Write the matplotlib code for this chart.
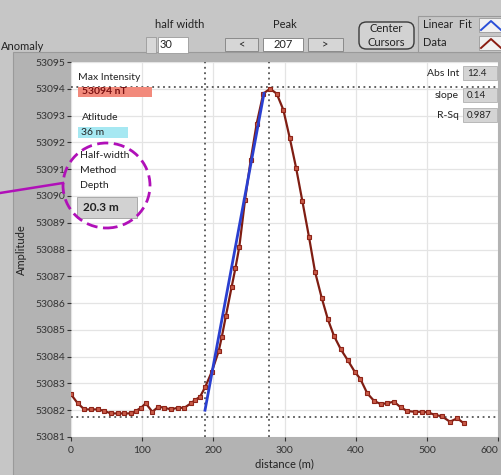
import matplotlib
matplotlib.use('Agg')
import matplotlib.pyplot as plt
from matplotlib.patches import Rectangle, FancyBboxPatch, Ellipse
from matplotlib.lines import Line2D

plt.rcParams['font.family'] = ['Lato', 'DejaVu Sans']

# Data
distance = [0, 9.4, 18.7, 28.1, 38.4, 46.8, 56.2, 65.6, 75, 84.3, 90.9, 98.4,
            105, 114.3, 122.8, 131.2, 140.5, 150, 159.3, 168.6, 174.2, 181.3,
            188.3, 197.6, 207.5, 212, 217.5, 225.7, 231, 236.5, 244.5, 252.5,
            260.9, 270.2, 279.6, 289, 298.3, 307.5, 316.2, 325, 334.4, 342.9,
            352.2, 361, 369.6, 379.2, 388.8, 398.6, 406.5, 416.3, 425.8, 435,
            444.3, 453.8, 463.1, 472.5, 483.3, 492.7, 502, 511.5, 520.8, 532.5,
            542.8, 552]
amplitude = [53082.59, 53082.26, 53082.03, 53082.03, 53082.03, 53081.97,
             53081.88, 53081.88, 53081.88, 53081.88, 53081.97, 53082.09,
             53082.26, 53081.94, 53082.13, 53082.09, 53082.03, 53082.09,
             53082.09, 53082.26, 53082.38, 53082.5, 53082.85, 53083.42,
             53084.2, 53084.75, 53085.5, 53086.6, 53087.3, 53088.1, 53089.84,
             53091.34, 53092.7, 53093.82, 53094.0, 53093.82, 53093.22,
             53092.15, 53091.06, 53089.82, 53088.47, 53087.17, 53086.2,
             53085.39, 53084.77, 53084.27, 53083.87, 53083.44, 53083.17,
             53082.63, 53082.35, 53082.23, 53082.26, 53082.32, 53082.11,
             53081.97, 53081.94, 53081.94, 53081.92, 53081.82, 53081.78,
             53081.57, 53081.7, 53081.51]
fit_x = [188.3, 271.2]
fit_y = [53082.0, 53093.83]
cursor_x = [188.5, 278.5]
cursor_y = [53081.73, 53094.05]
x_ticks = [0, 100, 200, 300, 400, 500, 600]
y_ticks = list(range(53081, 53096))

W, H = 502, 475


def fx(x):
    return x / W


def fy(y):
    return 1 - y / H


fig = plt.figure(figsize=(W / 100, H / 100), dpi=100)
fig.patch.set_facecolor('#c6c6c6')

# graph frame
fig.add_artist(Rectangle((fx(13), 0), 1 - fx(13), fy(52), transform=fig.transFigure,
                         facecolor='#b3b3b3', edgecolor='#9a9a9a', lw=0.8, zorder=0))

ax = fig.add_axes([fx(71), fy(437), (498 - 71) / W, (437 - 62) / H])
ax.set_facecolor('white')
for s in ax.spines.values():
    s.set_visible(False)

ax.plot(distance, amplitude, color='#7f1d12', lw=1.6, marker='s', ms=3.2,
        mfc='#c85a48', mec='#8e2418', mew=0.8, zorder=4)
ax.plot(fit_x, fit_y, color='#2a3fd0', lw=2.0, zorder=5)
for cx in cursor_x:
    ax.axvline(cx, color='#555555', ls=(0, (1, 2)), lw=1.3, zorder=3)
for cy in cursor_y:
    ax.axhline(cy, color='#555555', ls=(0, (1, 2)), lw=1.3, zorder=3)

ax.set_xlim(0, 600)
ax.set_ylim(53081, 53095)
ax.set_xticks(x_ticks)
ax.set_yticks(y_ticks)
ax.set_yticklabels([str(v) for v in y_ticks])
ax.grid(True, color='#e4e4e4', lw=0.9)
ax.set_axisbelow(True)
ax.tick_params(axis='both', labelsize=7.5, colors='#333333', length=3, width=0.8)
ax.tick_params(axis='y', pad=1)
# keep the last x label inside the image
ax.get_xticklabels()[-1].set_horizontalalignment('right')
ax.set_xlabel('distance (m)', fontsize=8, color='#222222', labelpad=2)
ax.set_ylabel('Amplitude', fontsize=8, color='#222222', labelpad=6)

# indicators inside the plot
txt = dict(transform=fig.transFigure, fontsize=7.5, color='#222222', va='center')
fig.text(fx(78), fy(77), 'Max Intensity', **txt)
fig.add_artist(Rectangle((fx(78), fy(97)), 74 / W, 10 / H, transform=fig.transFigure,
                         facecolor='#f28a7c', edgecolor='none', zorder=5))
fig.text(fx(82), fy(92), '53094 nT', fontweight='bold', zorder=6,
         **{**txt, 'color': '#7a1010'})
fig.text(fx(82), fy(117), 'Atlitude', **txt)
fig.add_artist(Rectangle((fx(78), fy(138)), 50 / W, 11 / H, transform=fig.transFigure,
                         facecolor='#a6e8f2', edgecolor='none', zorder=5))
fig.text(fx(81), fy(132.5), '36 m', zorder=6, **txt)
fig.text(fx(80), fy(155), 'Half-width', **txt)
fig.text(fx(80), fy(170.5), 'Method', **txt)
fig.text(fx(80), fy(186), 'Depth', **txt)
fig.add_artist(Rectangle((fx(77), fy(218)), 60 / W, 21 / H, transform=fig.transFigure,
                         facecolor='#d2d2d2', edgecolor='#a0a0a0', lw=0.6, zorder=5))
fig.text(fx(83), fy(207.5), '20.3 m', fontweight='bold', zorder=6,
         **{**txt, 'fontsize': 8.5})

fig.add_artist(Ellipse((fx(106.5), fy(185.5)), 87 / W, 85 / H, transform=fig.transFigure,
                       facecolor='none', edgecolor='#b010b8', lw=2.0, ls=(0, (4, 2)), zorder=7))
fig.add_artist(Line2D([fx(0), fx(63)], [fy(193), fy(183)], transform=fig.transFigure,
                      color='#b010b8', lw=1.8, zorder=7))

for label, val, yy in [('Abs Int', '12.4', 73), ('slope', '0.14', 95), ('R-Sq', '0.987', 115)]:
    fig.text(fx(459), fy(yy), label, ha='right', **txt)
    fig.add_artist(Rectangle((fx(463), fy(yy + 7)), 34 / W, 14 / H, transform=fig.transFigure,
                             facecolor='#d4d4d4', edgecolor='#b0b0b0', lw=0.6, zorder=5))
    fig.text(fx(467), fy(yy), val, zorder=6, **{**txt, 'fontsize': 7})

# top control bar
fig.text(fx(1), fy(47), 'Anomaly', **{**txt, 'fontsize': 8})
fig.text(fx(180), fy(25), 'half width', ha='center', **{**txt, 'fontsize': 8})
fig.add_artist(Rectangle((fx(158), fy(53)), 30 / W, 16 / H, transform=fig.transFigure,
                         facecolor='white', edgecolor='#9a9a9a', lw=0.6))
fig.add_artist(Rectangle((fx(146), fy(53)), 10 / W, 16 / H, transform=fig.transFigure,
                         facecolor='#d8d8d8', edgecolor='#9a9a9a', lw=0.6))
fig.text(fx(160), fy(45), '30', **{**txt, 'fontsize': 8})
fig.text(fx(285), fy(25), 'Peak', ha='center', **{**txt, 'fontsize': 8})
for x0, w0, lab, col in [(225, 33, '<', '#d6d6d6'), (263, 40, '207', 'white'),
                         (308, 35, '>', '#d6d6d6')]:
    fig.add_artist(Rectangle((fx(x0), fy(51)), w0 / W, 13 / H, transform=fig.transFigure,
                             facecolor=col, edgecolor='#8a8a8a', lw=0.7))
    fig.text(fx(x0 + w0 / 2), fy(44.5), lab, ha='center', **{**txt, 'fontsize': 8})

fig.add_artist(FancyBboxPatch((fx(359), fy(49)), 55 / W, 27 / H,
                              boxstyle='round,pad=0,rounding_size=0.015',
                              transform=fig.transFigure, facecolor='#d2d2d2',
                              edgecolor='#3a3a3a', lw=1.0))
fig.text(fx(386.5), fy(29), 'Center', ha='center', **{**txt, 'fontsize': 8})
fig.text(fx(386.5), fy(42), 'Cursors', ha='center', **{**txt, 'fontsize': 8})

# legend
fig.add_artist(Rectangle((fx(418), fy(52)), 84 / W, 36 / H, transform=fig.transFigure,
                         facecolor='#c6c6c6', edgecolor='#9a9a9a', lw=0.8))
fig.text(fx(423), fy(25), 'Linear  Fit', **{**txt, 'fontsize': 8})
fig.text(fx(423), fy(43), 'Data', **{**txt, 'fontsize': 8})
for yy, col in [(25, '#2a4fd8'), (43, '#8b1d12')]:
    fig.add_artist(Rectangle((fx(479), fy(yy + 7)), 23 / W, 14 / H, transform=fig.transFigure,
                             facecolor='#f2f2f2', edgecolor='#9a9a9a', lw=0.6))
    fig.add_artist(Line2D([fx(481), fx(491), fx(501)], [fy(yy + 5), fy(yy - 4), fy(yy + 5)],
                          transform=fig.transFigure, color=col, lw=1.4))

fig.savefig('out.png', dpi=100, facecolor=fig.get_facecolor())
